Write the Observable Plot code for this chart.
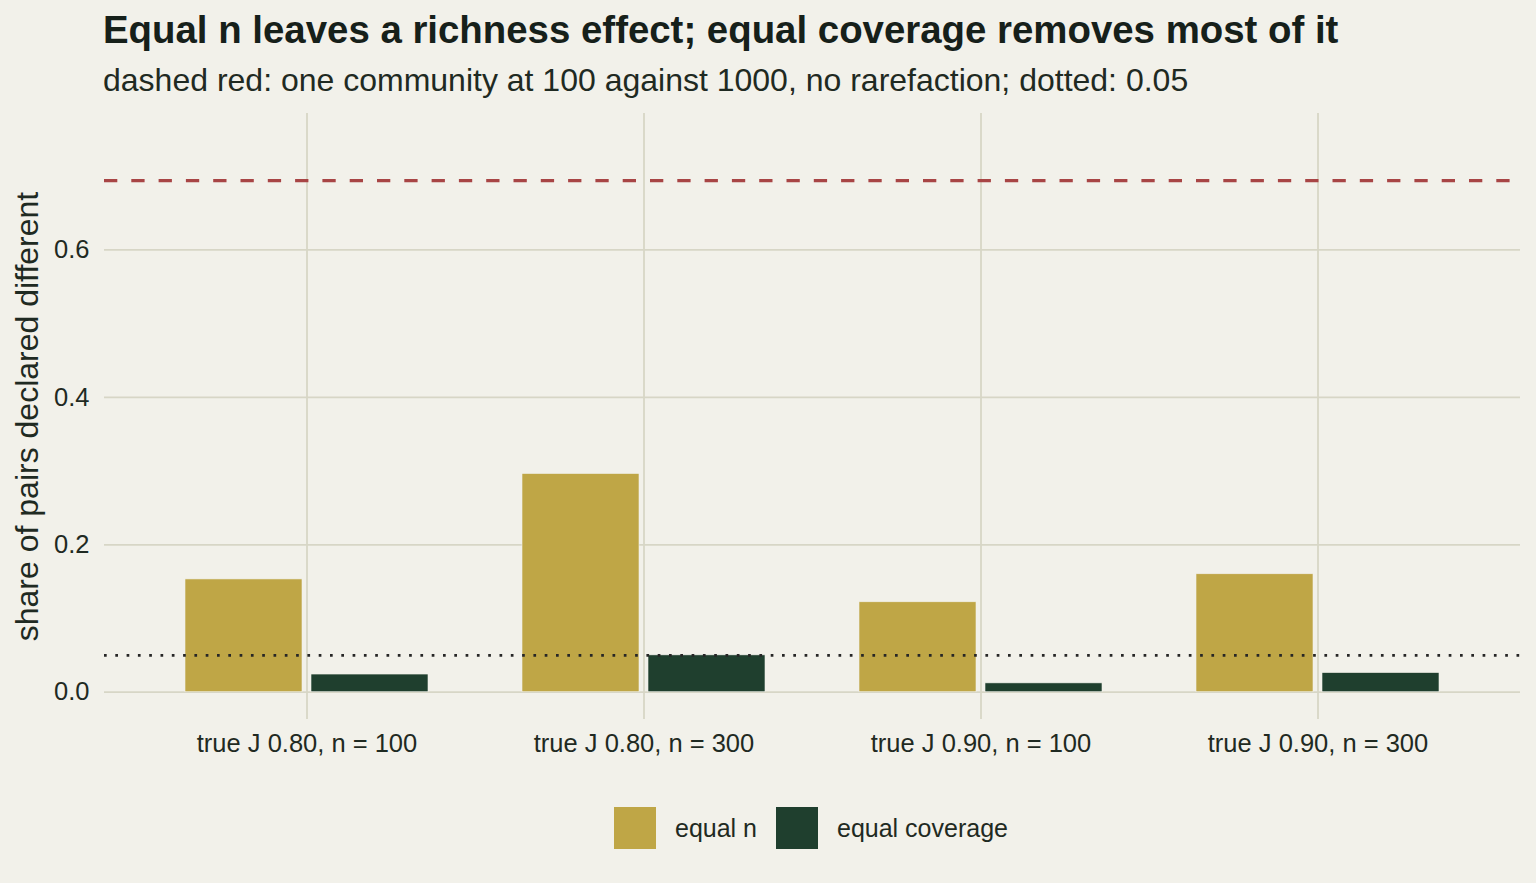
<!DOCTYPE html>
<html>
<head>
<meta charset="utf-8">
<script src="https://cdn.jsdelivr.net/npm/d3@7"></script>
<script src="https://cdn.jsdelivr.net/npm/@observablehq/plot@0.6"></script>
<style>
  html, body { margin: 0; padding: 0; background: #f2f1ea; }
  body { width: 1536px; height: 883px; overflow: hidden; font-family: "Liberation Sans", Arial, Helvetica, sans-serif; color: #16201a; }
  #header { position: relative; height: 100px; }
  #title { position: absolute; left: 103px; top: 11px; font-size: 38.4px; line-height: 38.4px; font-weight: bold; color: #16201a; white-space: nowrap; }
  #subtitle { position: absolute; left: 103px; top: 63.5px; font-size: 32px; line-height: 32px; color: #1f2a22; white-space: nowrap; }
  #chart svg { display: block; }
  #legend { position: relative; height: 93px; }
  .item { position: absolute; top: 17px; display: flex; align-items: center; }
  .sw { width: 42px; height: 42px; }
  .lab { font-size: 25px; margin-left: 19px; color: #1f2a22; }
</style>
</head>
<body>
<div id="header">
  <div id="title">Equal n leaves a richness effect; equal coverage removes most of it</div>
  <div id="subtitle">dashed red: one community at 100 against 1000, no rarefaction; dotted: 0.05</div>
</div>
<div id="chart"></div>
<div id="legend"></div>
<script>
const categories = ["true J 0.80, n = 100", "true J 0.80, n = 300", "true J 0.90, n = 100", "true J 0.90, n = 300"];
const equalN = [0.153, 0.296, 0.122, 0.160];
const equalCoverage = [0.024, 0.050, 0.012, 0.026];
const methods = ["equal n", "equal coverage"];
const methodColors = ["#bfa646", "#1f3f2e"];
const noRarefaction = [0.694];
const alphaLevel = [0.05];
const yTicks = [0, 0.2, 0.4, 0.6];
const yLabel = "share of pairs declared different";

const rowsN = categories.map((c, i) => ({cat: c, value: equalN[i], method: methods[0]}));
const rowsC = categories.map((c, i) => ({cat: c, value: equalCoverage[i], method: methods[1]}));

const gridColor = "#d7d6c6";
const textColor = "#1f2a22";

const chart = Plot.plot({
  width: 1536,
  height: 690,
  marginLeft: 104,
  marginRight: 16,
  marginTop: 13,
  marginBottom: 71,
  style: {background: "#f2f1ea", fontFamily: "Liberation Sans, Arial, sans-serif", color: textColor},
  x: {type: "band", domain: categories, paddingInner: 0.2775, paddingOuter: 0.2376, align: 0.5},
  y: {domain: [-0.037, 0.785]},
  marks: [
    Plot.ruleY(yTicks, {stroke: gridColor, strokeWidth: 1.8}),
    Plot.ruleX(categories, {x: d => d, stroke: gridColor, strokeWidth: 1.8}),
    Plot.barY(rowsN, {x: "cat", y: "value", fill: methodColors[0], insetRight: 126, stroke: "#f2f1ea", strokeWidth: 0.6}),
    Plot.barY(rowsC, {x: "cat", y: "value", fill: methodColors[1], insetLeft: 126, stroke: "#f2f1ea", strokeWidth: 0.6}),
    Plot.ruleY(alphaLevel, {stroke: "#262626", strokeWidth: 2.7, strokeDasharray: "2.7,8.6"}),
    Plot.ruleY(noRarefaction, {stroke: "#a84545", strokeWidth: 3.2, strokeDasharray: "13.3,14"}),
    Plot.axisX({tickSize: 0, tickPadding: 14.5, fontSize: 25.5, label: null, color: textColor}),
    Plot.axisY({ticks: yTicks, tickFormat: d3.format(".1f"), tickSize: 0, tickPadding: 15, fontSize: 25.5, label: null, color: textColor}),
    Plot.axisY({ticks: [], label: yLabel, labelArrow: "none", labelAnchor: "center", labelOffset: 89, fontSize: 32, color: textColor})
  ]
});
document.getElementById("chart").appendChild(chart);

const legend = document.getElementById("legend");
const lefts = [614, 776];
methods.forEach((m, i) => {
  const it = document.createElement("div");
  it.className = "item";
  it.style.left = lefts[i] + "px";
  it.innerHTML = `<div class="sw" style="background:${methodColors[i]}"></div><div class="lab">${m}</div>`;
  legend.appendChild(it);
});
</script>
</body>
</html>
